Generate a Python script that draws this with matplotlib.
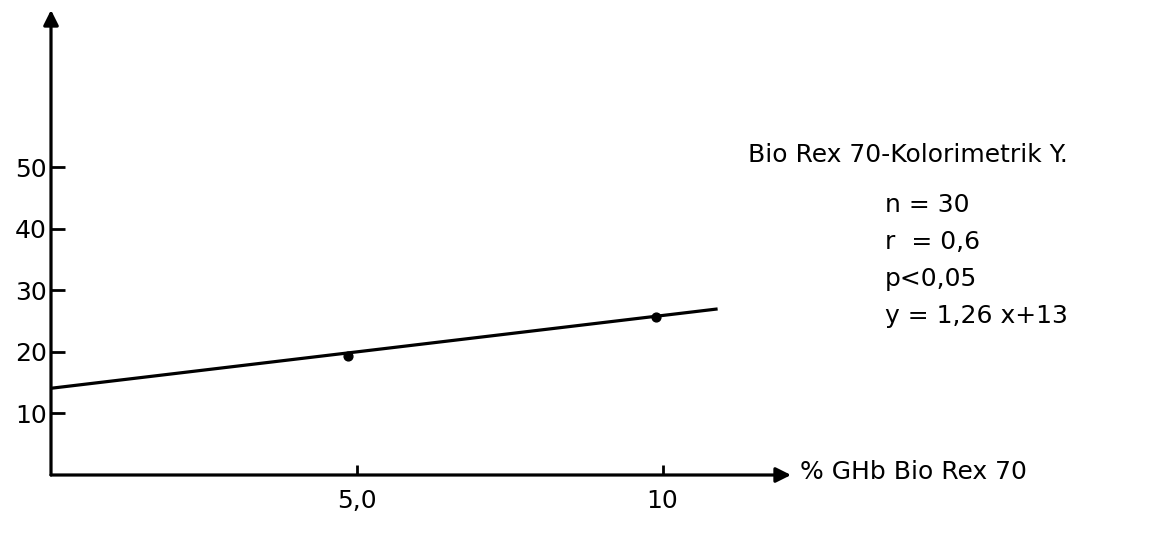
import numpy as np
import matplotlib
matplotlib.use("Agg")
import matplotlib.pyplot as plt

# DATA ----------------------------------------------------
# measured points (% GHb Bio Rex 70 vs colorimetric value)
pt_x = [4.85, 9.9]
pt_y = [19.3, 25.7]

# drawn regression line, start and end
line_x = [0.0, 10.9]
line_y = [14.1, 27.0]

ytick_vals = [10, 20, 30, 40, 50]
xtick_vals = [5, 10]
xtick_labels = ["5,0", "10"]

xlabel = "% GHb Bio Rex 70"
stats_title = "Bio Rex 70-Kolorimetrik Y."
stats_lines = ["n = 30", "r  = 0,6", "p<0,05", "y = 1,26 x+13"]

# PLOT ----------------------------------------------------
W, H = 1149, 534
fig = plt.figure(figsize=(W / 100, H / 100), dpi=100)
# axes placed so that origin sits at pixel (51, 475)
ax = fig.add_axes([51 / W, (H - 475) / H, 740 / W, 465 / H])
ax.set_xlim(0, 12.1)
ax.set_ylim(0, 75.6)

for s in ax.spines.values():
    s.set_visible(False)

# axes as arrows
arrow = dict(arrowstyle="-|>,head_length=0.5,head_width=0.25", lw=2.3,
             color="black", mutation_scale=18, shrinkA=0, shrinkB=0)
ax.annotate("", xy=(12.1, 0), xytext=(0, 0), arrowprops=arrow,
            annotation_clip=False)
ax.annotate("", xy=(0, 75.6), xytext=(0, 0), arrowprops=arrow,
            annotation_clip=False)

ax.plot(line_x, line_y, color="black", lw=2.3, solid_capstyle="butt")
ax.scatter(pt_x, pt_y, s=40, color="black", zorder=3)

ax.set_yticks(ytick_vals)
ax.set_yticklabels([str(v) for v in ytick_vals])
ax.set_xticks(xtick_vals)
ax.set_xticklabels(xtick_labels)
ax.tick_params(axis="y", direction="in", length=10, width=2, pad=3,
               labelsize=18)
ax.tick_params(axis="x", direction="in", length=7, width=2, pad=10,
               labelsize=18)

fig.text(800 / W, 1 - 472 / H, xlabel, fontsize=18, va="center", ha="left")
fig.text(748 / W, 1 - 155 / H, stats_title, fontsize=18, va="center", ha="left")
for i, s in enumerate(stats_lines):
    fig.text(885 / W, 1 - (205 + 37 * i) / H, s, fontsize=18,
             va="center", ha="left")

fig.savefig("out.png", dpi=100)
